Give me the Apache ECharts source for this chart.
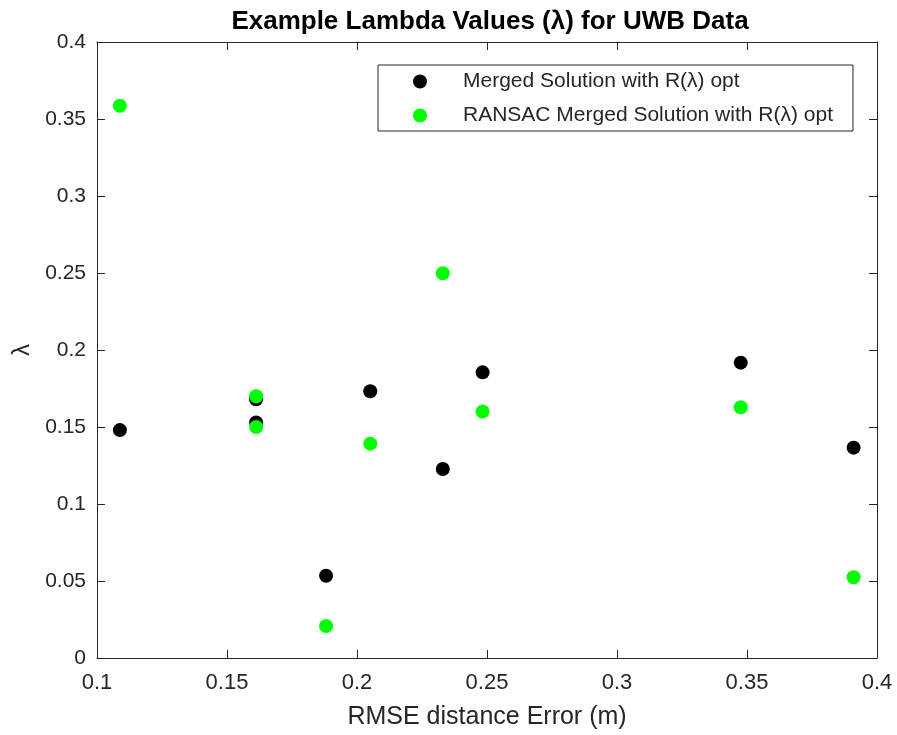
<!DOCTYPE html>
<html>
<head>
<meta charset="utf-8">
<script src="https://cdn.jsdelivr.net/npm/echarts@6/dist/echarts.min.js"></script>
<style>
  html, body { margin: 0; padding: 0; background: #ffffff; }
  #chart { width: 897px; height: 735px; }
</style>
</head>
<body>
<div id="chart"></div>
<script>
// RMSE distance error (m) for each test run
const rmseError = [0.1088, 0.1612, 0.1612, 0.1881, 0.2051, 0.2330, 0.2483, 0.3476, 0.3910];
// Optimal lambda from the merged solution
const mergedLambda = [0.148, 0.168, 0.153, 0.0534, 0.1732, 0.1227, 0.1855, 0.1918, 0.1366];
// Optimal lambda from the RANSAC merged solution
const ransacLambda = [0.3586, 0.170, 0.150, 0.0208, 0.1392, 0.2498, 0.160, 0.1628, 0.0524];

const seriesNames = ['Merged Solution with R(\u03bb) opt', 'RANSAC Merged Solution with R(\u03bb) opt'];
const xTicks = { min: 0.1, max: 0.4, step: 0.05 };
const yTicks = { min: 0, max: 0.4, step: 0.05 };

const FONT = "'Liberation Sans', Arial, sans-serif";
const INK = '#262626';

function pairs(xs, ys) { return xs.map((x, i) => [x, ys[i]]); }

function xAxisDef(pos, showLabels) {
  return {
    type: 'value', position: pos,
    min: xTicks.min, max: xTicks.max, interval: xTicks.step,
    axisLine: { show: true, onZero: false, lineStyle: { color: INK, width: 1 } },
    axisTick: { show: true, inside: true, length: 8, lineStyle: { color: INK } },
    axisLabel: { show: showLabels, color: INK, fontFamily: FONT, fontSize: 22, margin: 14 },
    splitLine: { show: false },
    name: showLabels ? 'RMSE distance Error (m)' : '',
    nameLocation: 'middle', nameGap: 47,
    nameTextStyle: { color: INK, fontFamily: FONT, fontSize: 25 }
  };
}
function yAxisDef(pos, showLabels) {
  return {
    type: 'value', position: pos,
    min: yTicks.min, max: yTicks.max, interval: yTicks.step,
    axisLine: { show: true, onZero: false, lineStyle: { color: INK, width: 1 } },
    axisTick: { show: true, inside: true, length: 8, lineStyle: { color: INK } },
    axisLabel: { show: showLabels, color: INK, fontFamily: FONT, fontSize: 21, margin: 11 },
    splitLine: { show: false },
    name: showLabels ? '\u03bb' : '',
    nameLocation: 'middle', nameGap: 63, nameRotate: 90,
    nameTextStyle: { color: INK, fontFamily: FONT, fontSize: 24 }
  };
}

const chart = echarts.init(document.getElementById('chart'), null, { renderer: 'canvas' });
chart.setOption({
  animation: false,
  backgroundColor: '#ffffff',
  title: {
    text: 'Example Lambda Values (\u03bb) for UWB Data',
    left: 485, top: 4, textAlign: 'center',
    textStyle: { color: '#000000', fontFamily: FONT, fontWeight: 'bold', fontSize: 26 }
  },
  grid: { left: 97, right: 20, top: 42, bottom: 77, containLabel: false },
  legend: {
    orient: 'vertical', left: 378, top: 65,
    data: seriesNames,
    itemWidth: 14, itemHeight: 14, itemGap: 13,
    padding: [6, 14, 5, 35],
    backgroundColor: '#ffffff',
    borderColor: INK, borderWidth: 1, borderRadius: 0,
    textStyle: { color: INK, fontFamily: FONT, fontSize: 21, lineHeight: 20, padding: [0, 6, 0, 31] }
  },
  xAxis: [xAxisDef('bottom', true), xAxisDef('top', false)],
  yAxis: [yAxisDef('left', true), yAxisDef('right', false)],
  series: [
    {
      name: seriesNames[0], type: 'scatter', xAxisIndex: 0, yAxisIndex: 0,
      symbol: 'circle', symbolSize: 14,
      itemStyle: { color: '#000000', opacity: 1 },
      data: pairs(rmseError, mergedLambda)
    },
    {
      name: seriesNames[1], type: 'scatter', xAxisIndex: 0, yAxisIndex: 0,
      symbol: 'circle', symbolSize: 14,
      itemStyle: { color: '#00ff00', opacity: 1 },
      data: pairs(rmseError, ransacLambda)
    }
  ]
});
</script>
</body>
</html>
